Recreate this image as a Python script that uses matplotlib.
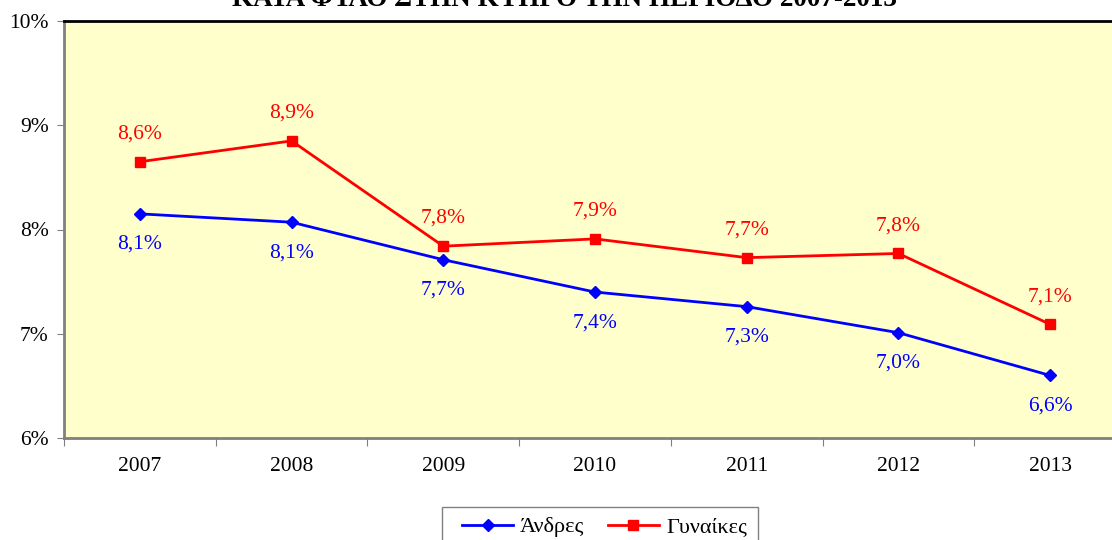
import matplotlib
matplotlib.use("Agg")
import matplotlib.pyplot as plt
from matplotlib.lines import Line2D
from matplotlib.patches import Rectangle

years = ["2007", "2008", "2009", "2010", "2011", "2012", "2013"]
men = [8.15, 8.07, 7.71, 7.40, 7.26, 7.01, 6.60]
women = [8.65, 8.85, 7.84, 7.91, 7.73, 7.77, 7.09]
men_labels = ["8,1%", "8,1%", "7,7%", "7,4%", "7,3%", "7,0%", "6,6%"]
women_labels = ["8,6%", "8,9%", "7,8%", "7,9%", "7,7%", "7,8%", "7,1%"]
y_ticks = [6, 7, 8, 9, 10]
y_tick_labels = ["6%", "7%", "8%", "9%", "10%"]
title = "ΚΑΤΑ ΦΥΛΟ ΣΤΗΝ ΚΥΠΡΟ ΤΗΝ ΠΕΡΙΟΔΟ 2007-2013"
legend_names = ["Άνδρες", "Γυναίκες"]

plt.rcParams['font.family'] = ['Liberation Serif', 'DejaVu Serif']

W, H = 1112, 540
fig = plt.figure(figsize=(W / 100, H / 100), dpi=100)
fig.patch.set_facecolor("white")

left, right, top, bottom = 64, 1126, 21, 438
ax = fig.add_axes([left / W, 1 - bottom / H, (right - left) / W, (bottom - top) / H])
ax.set_facecolor("#FFFFCC")

x = list(range(len(years)))
ax.plot(x, men, color="#0000FF", lw=2, marker="D", ms=6, zorder=3)
ax.plot(x, women, color="#FF0000", lw=2, marker="s", ms=7, zorder=3)

for xi, v, s in zip(x, men, men_labels):
    ax.annotate(s, (xi, v), xytext=(0, -22), textcoords="offset points",
                ha="center", va="center", color="#0000FF", fontsize=15.5)
for xi, v, s in zip(x, women, women_labels):
    ax.annotate(s, (xi, v), xytext=(0, 20), textcoords="offset points",
                ha="center", va="center", color="#FF0000", fontsize=15.5)

ax.set_xlim(-0.5, len(years) - 0.5)
ax.set_ylim(6, 10)
ax.set_yticks(y_ticks)
ax.set_yticklabels(y_tick_labels, fontsize=15.5)
ax.set_xticks([i - 0.5 for i in range(len(years) + 1)], minor=False)
ax.set_xticklabels([])
ax.set_xticks(x, minor=True)
ax.set_xticklabels(years, minor=True, fontsize=15.5)
ax.tick_params(axis="x", which="major", length=6, color="#808080", direction="out")
ax.tick_params(axis="x", which="minor", length=0, pad=14)
ax.tick_params(axis="y", length=5, color="#808080", direction="out", pad=6)

for side in ["left", "bottom"]:
    ax.spines[side].set_color("#808080")
    ax.spines[side].set_linewidth(2)
ax.spines["top"].set_color("black")
ax.spines["top"].set_linewidth(2)
ax.spines["right"].set_visible(False)

fig.text(564 / W, 1 - 6 / H, title, ha="center", va="baseline",
         fontsize=19.5, fontweight="bold")

# legend frame (extends past the bottom edge as in the reference)
fig.patches.append(Rectangle((442 / W, -10 / H), (758 - 442) / W, (10 + 540 - 507) / H,
                             transform=fig.transFigure, facecolor="white",
                             edgecolor="#808080", linewidth=1, zorder=1))
handles = [Line2D([], [], color="#0000FF", lw=2, marker="D", ms=6),
           Line2D([], [], color="#FF0000", lw=2, marker="s", ms=7)]
leg = fig.legend(handles, legend_names, loc="center left",
                 bbox_to_anchor=(462 / W, 1 - 527 / H), ncol=2, fontsize=16,
                 frameon=False, handlelength=2.3, handletextpad=0.32,
                 columnspacing=1.05, borderpad=0, borderaxespad=0)
leg.set_zorder(2)

fig.savefig("out.png", dpi=100, facecolor="white")
